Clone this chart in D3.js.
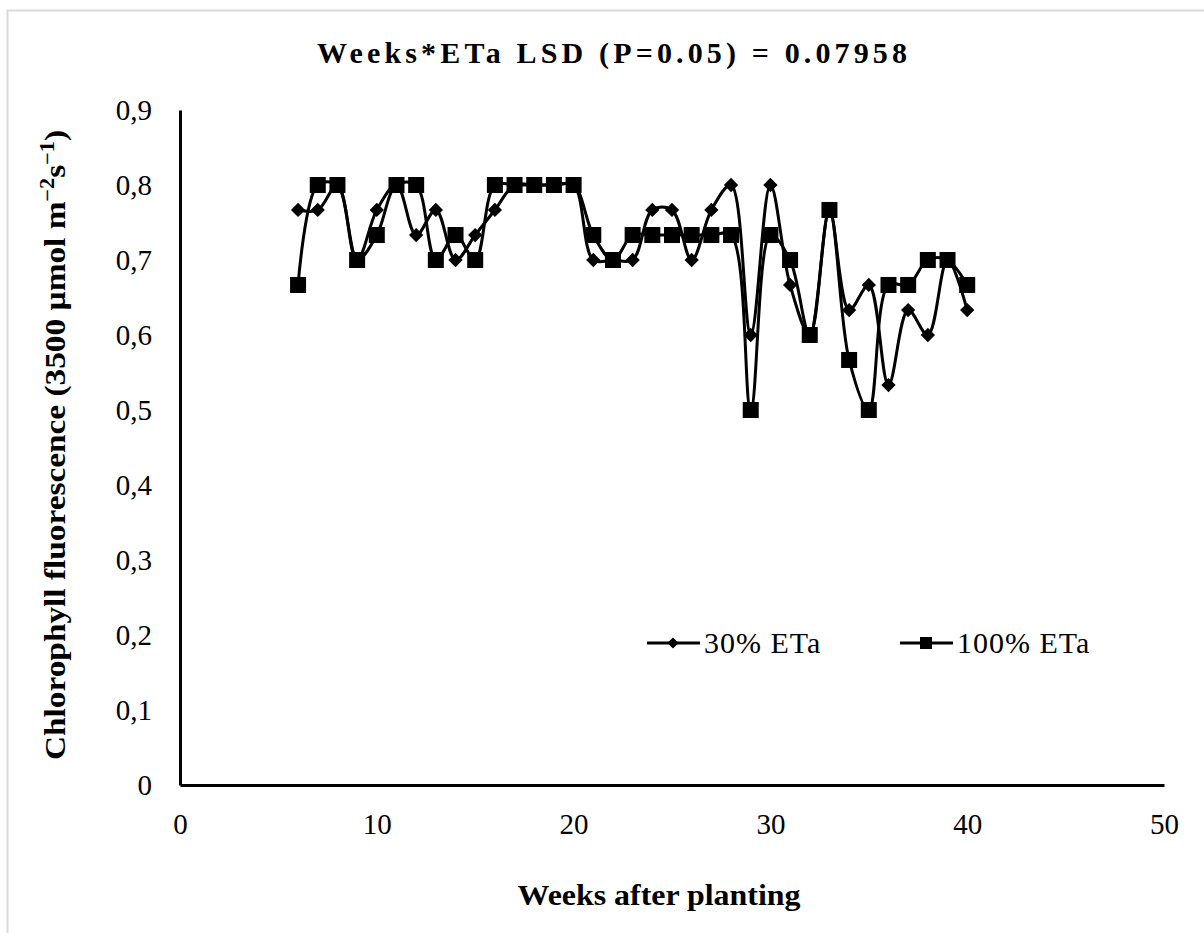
<!DOCTYPE html>
<html>
<head>
<meta charset="utf-8">
<script src="https://cdn.jsdelivr.net/npm/d3@7"></script>
<style>
  body { margin: 0; background: #fff; }
  svg text { font-family: "Liberation Serif", "Times New Roman", serif; fill: #000; }
</style>
</head>
<body>
<div id="chart"></div>
<script>
// weeks after planting
var weeks = [6,7,8,9,10,11,12,13,14,15,16,17,18,19,20,21,22,23,24,25,26,27,28,29,30,31,32,33,34,35,36,37,38,39,40];
// 30% ETa (diamonds)
var eta30 = [0.7667,0.7667,0.8,0.7,0.7667,0.8,0.7333,0.7667,0.7,0.7333,0.7667,0.8,0.8,0.8,0.8,
             0.7,0.7,0.7,0.7667,0.7667,0.7,0.7667,0.8,0.6,0.8,0.6667,0.6,0.7667,0.6333,0.6667,
             0.5333,0.6333,0.6,0.7,0.6333];
// 100% ETa (squares)
var eta100 = [0.6667,0.8,0.8,0.7,0.7333,0.8,0.8,0.7,0.7333,0.7,0.8,0.8,0.8,0.8,0.8,
              0.7333,0.7,0.7333,0.7333,0.7333,0.7333,0.7333,0.7333,0.5,0.7333,0.7,0.6,0.7667,0.5667,0.5,
              0.6667,0.6667,0.7,0.7,0.6667];
var xTicks = [0,10,20,30,40,50];
var yTicks = [0,0.1,0.2,0.3,0.4,0.5,0.6,0.7,0.8,0.9];
var seriesNames = ["30% ETa", "100% ETa"];

var W = 1204, H = 933;
var margin = {left: 180, right: 40, top: 110, bottom: 148};

var svg = d3.select("#chart").append("svg")
    .attr("width", W)
    .attr("height", H);

// outer chart frame
svg.append("rect")
    .attr("x", 7.5).attr("y", 10.5)
    .attr("width", W).attr("height", H)
    .attr("fill", "#fff")
    .attr("stroke", "#d9d9d9")
    .attr("stroke-width", 2);

var x = d3.scaleLinear().domain([0, 50]).range([margin.left, W - margin.right]);
var y = d3.scaleLinear().domain([0, 0.9]).range([H - margin.bottom, margin.top]);

// title
svg.append("text")
    .attr("x", 612).attr("y", 63)
    .attr("text-anchor", "middle")
    .attr("font-weight", "bold")
    .attr("font-size", 30)
    .attr("textLength", 590)
    .attr("lengthAdjust", "spacing")
    .text("Weeks*ETa LSD (P=0.05) = 0.07958");

// axes (no tick marks, only lines and labels)
var xAxis = d3.axisBottom(x).tickValues(xTicks).tickSize(0).tickPadding(28)
    .tickFormat(d3.format("d"));
var yAxis = d3.axisLeft(y).tickValues(yTicks).tickSize(0).tickPadding(28)
    .tickFormat(function(d){ return d === 0 ? "0" : d3.format(".1f")(d).replace(".", ","); });

var gx = svg.append("g")
    .attr("transform", "translate(0," + y(0) + ")")
    .call(xAxis);
var gy = svg.append("g")
    .attr("transform", "translate(" + x(0) + ",0)")
    .call(yAxis);

[gx, gy].forEach(function(g){
  g.select(".domain").attr("stroke", "#000").attr("stroke-width", 3);
  g.selectAll("text")
    .attr("font-family", "Liberation Serif, Times New Roman, serif")
    .attr("font-size", 29)
    .attr("fill", "#000");
});

// axis titles
svg.append("text")
    .attr("x", 659).attr("y", 905)
    .attr("text-anchor", "middle")
    .attr("font-weight", "bold")
    .attr("font-size", 30)
    .attr("textLength", 283)
    .attr("lengthAdjust", "spacingAndGlyphs")
    .text("Weeks after planting");

var yl = svg.append("text")
    .attr("transform", "translate(65,445) rotate(-90)")
    .attr("text-anchor", "middle")
    .attr("font-weight", "bold")
    .attr("font-size", 30)
    .attr("textLength", 630)
    .attr("lengthAdjust", "spacingAndGlyphs");
yl.append("tspan").text("Chlorophyll fluorescence  (3500 µmol m");
yl.append("tspan").attr("font-size", 20).attr("dy", -11).text("−2");
yl.append("tspan").attr("dy", 11).text("s");
yl.append("tspan").attr("font-size", 20).attr("dy", -11).text("−1");
yl.append("tspan").attr("dy", 11).text(")");

// series lines (Excel-style smoothed)
var line = d3.line()
    .x(function(d){ return x(d[0]); })
    .y(function(d){ return y(d[1]); })
    .curve(d3.curveCatmullRom.alpha(0.5));

var data30 = weeks.map(function(w, i){ return [w, eta30[i]]; });
var data100 = weeks.map(function(w, i){ return [w, eta100[i]]; });

var plot = svg.append("g");

[data30, data100].forEach(function(d){
  plot.append("path")
      .attr("d", line(d))
      .attr("fill", "none")
      .attr("stroke", "#000")
      .attr("stroke-width", 3);
});

var diamond = d3.symbol().type(d3.symbolDiamond2).size(130);

plot.selectAll(".dia")
    .data(data30)
    .enter().append("path")
    .attr("class", "dia")
    .attr("d", diamond)
    .attr("transform", function(d){ return "translate(" + x(d[0]) + "," + y(d[1]) + ")"; })
    .attr("fill", "#000");

plot.selectAll(".sq")
    .data(data100)
    .enter().append("rect")
    .attr("class", "sq")
    .attr("x", function(d){ return x(d[0]) - 8; })
    .attr("y", function(d){ return y(d[1]) - 8; })
    .attr("width", 16).attr("height", 16)
    .attr("fill", "#000");

// legend
var legend = svg.append("g").attr("transform", "translate(647,643)");
var items = legend.selectAll("g")
    .data(seriesNames)
    .enter().append("g")
    .attr("transform", function(d, i){ return "translate(" + (i * 253) + ",0)"; });

items.append("line")
    .attr("x1", 0).attr("x2", 53)
    .attr("stroke", "#000").attr("stroke-width", 3);

items.each(function(d, i){
  var g = d3.select(this);
  if (i === 0) {
    g.append("path").attr("d", d3.symbol().type(d3.symbolDiamond2).size(80))
      .attr("transform", "translate(26,0)").attr("fill", "#000");
  } else {
    g.append("rect").attr("x", 20).attr("y", -6).attr("width", 12).attr("height", 12).attr("fill", "#000");
  }
});

items.append("text")
    .attr("x", 57).attr("y", 10)
    .attr("font-size", 30)
    .attr("letter-spacing", 1)
    .text(function(d){ return d; });
</script>
</body>
</html>
